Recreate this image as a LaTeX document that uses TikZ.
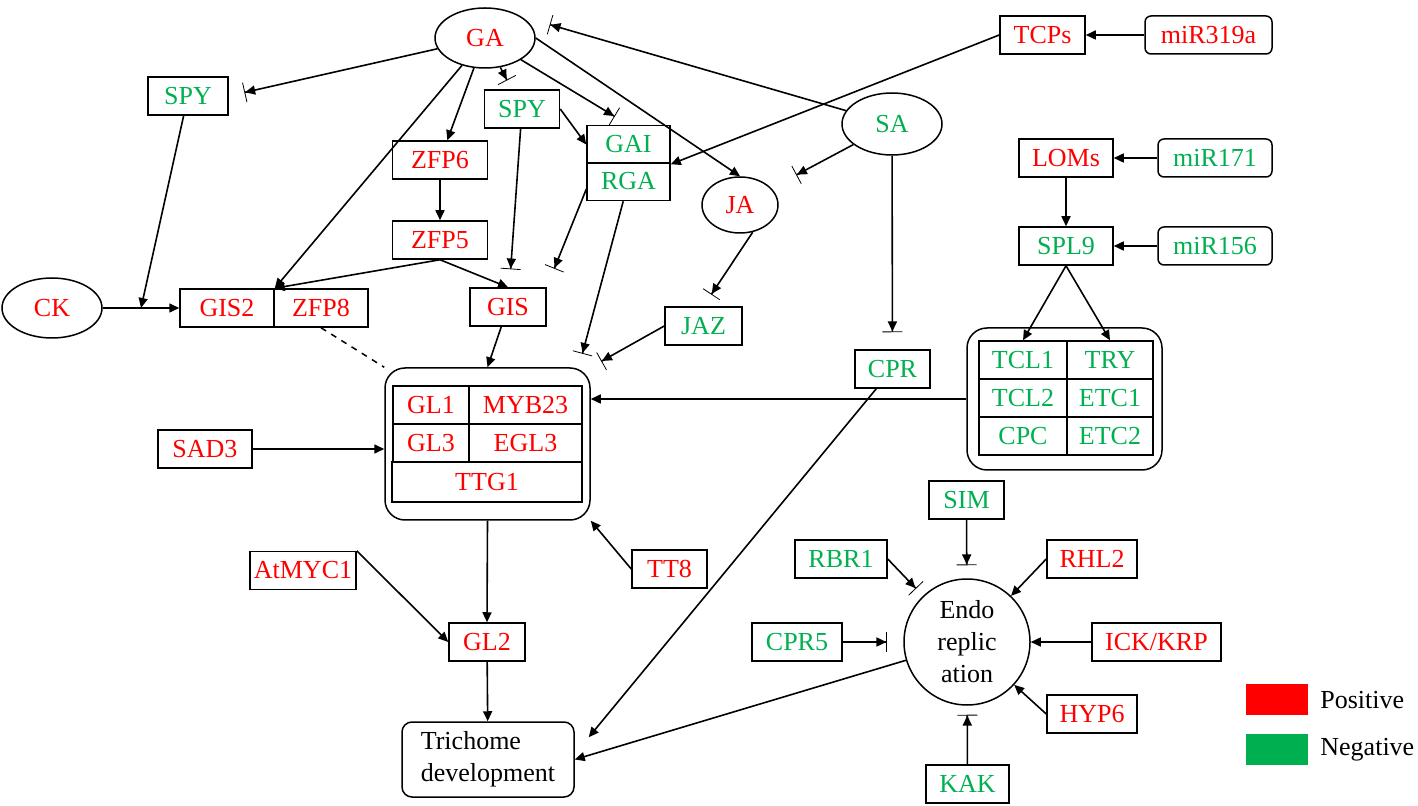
\documentclass[tikz,border=0pt]{standalone}
\usepackage{fontspec}
\setmainfont{Liberation Serif}
\usetikzlibrary{shapes.geometric,arrows.meta,calc}
\definecolor{posred}{RGB}{255,0,0}
\definecolor{neggreen}{RGB}{0,176,80}

\begin{document}
\begin{tikzpicture}[x=0.5pt,y=-0.5pt,font=\fontsize{13}{16}\selectfont,
    gene/.style ={rectangle, draw, line width=0.75pt, minimum height=19pt, inner sep=1pt},
    hormone/.style ={ellipse, draw, line width=0.75pt, inner sep=0pt, minimum width=50pt, minimum height=30pt},
    mirna/.style ={gene, rounded corners=3pt},
    group/.style ={rectangle, draw, line width=0.75pt, rounded corners=10pt},
    posreg/.style ={text=posred},
    negreg/.style ={text=neggreen},
    act/.style ={line width=0.8pt, -{Triangle[length=5pt,width=4.5pt]}},
    inh/.style ={line width=0.8pt, -{Triangle[length=5pt,width=4.5pt]Bar[width=10pt,line width=0.4pt]}}]
   \useasboundingbox (0,0) rectangle (1418,806);
   % hormones
   \node[hormone,posreg] (GA)  at (485,38)  {GA};
   \node[hormone,negreg,minimum height=31pt] (SA)  at (892,124)  {SA};
   \node[hormone,posreg,minimum width=38pt,minimum height=28pt] (JA)  at (740,205)  {JA};
   \node[hormone,posreg] (CK)  at (52,308)  {CK};
   % GA branch
   \node[gene,negreg,minimum width=40pt] (SPY1)  at (188,96)  {SPY};
   \node[gene,negreg,minimum width=37.5pt] (SPY2)  at (522,109)  {SPY};
   \node[gene,posreg,minimum width=47.5pt] (ZFP6)  at (440,160)  {ZFP6};
   \node[gene,posreg,minimum width=47.5pt] (ZFP5)  at (440,240)  {ZFP5};
   \node[gene,negreg,minimum width=41.5pt] (GAI)  at (628.5,144.5)  {GAI};
   \node[gene,negreg,minimum width=41.5pt] (RGA)  at (628.5,181.5)  {RGA};
   \node[gene,posreg,minimum width=47pt] (GIS2)  at (227,308)  {GIS2};
   \node[gene,posreg,minimum width=47pt] (ZFP8)  at (321,308)  {ZFP8};
   \node[gene,posreg,minimum width=38pt] (GIS)  at (508,307)  {GIS};
   \node[gene,negreg,minimum width=38.5pt] (JAZ)  at (703.5,326)  {JAZ};
   \node[gene,negreg,minimum width=37.5pt] (CPR)  at (892.5,369)  {CPR};
   % miRNA branch
   \node[gene,posreg,minimum width=42.5pt] (TCPs)  at (1042.5,35)  {TCPs};
   \node[mirna,posreg,minimum width=63.5pt] (miR319a)  at (1208.5,35)  {miR319a};
   \node[gene,posreg,minimum width=47pt] (LOMs)  at (1066,158)  {LOMs};
   \node[mirna,negreg,minimum width=57pt] (miR171)  at (1215,158)  {miR171};
   \node[gene,negreg,minimum width=47pt] (SPL9)  at (1066,246)  {SPL9};
   \node[mirna,negreg,minimum width=57pt] (miR156)  at (1215,246)  {miR156};
   % repressor complex
   \node[group,minimum width=97.5pt,minimum height=71pt] (tclbox)  at (1064.5,399)  {};
   \node[gene,negreg,minimum width=44pt] (TCL1)  at (1023,360)  {TCL1};
   \node[gene,negreg,minimum width=43pt] (TRY)  at (1110,360)  {TRY};
   \node[gene,negreg,minimum width=44pt] (TCL2)  at (1023,398)  {TCL2};
   \node[gene,negreg,minimum width=43pt] (ETC1)  at (1110,398)  {ETC1};
   \node[gene,negreg,minimum width=44pt] (CPC)  at (1023,436)  {CPC};
   \node[gene,negreg,minimum width=43pt] (ETC2)  at (1110,436)  {ETC2};
   % activator complex
   \node[group,minimum width=102.5pt,minimum height=76pt] (cplx)  at (487.5,444)  {};
   \node[gene,posreg,minimum width=38pt] (GL1)  at (431,405)  {GL1};
   \node[gene,posreg,minimum width=56.5pt] (MYB23)  at (525.5,405)  {MYB23};
   \node[gene,posreg,minimum width=38pt] (GL3)  at (431,443)  {GL3};
   \node[gene,posreg,minimum width=56.5pt] (EGL3)  at (525.5,443)  {EGL3};
   \node[gene,posreg,minimum width=95pt,minimum height=20pt] (TTG1)  at (487,482)  {TTG1};
   \node[gene,posreg,minimum width=47pt] (SAD3)  at (205,449)  {SAD3};
   \node[gene,posreg,minimum width=37.5pt] (TT8)  at (669.5,569)  {TT8};
   \node[gene,posreg,minimum width=53pt] (AtMYC1)  at (303,570.5)  {AtMYC1};
   \node[gene,posreg,minimum width=38pt] (GL2)  at (487,642)  {GL2};
   \node[group,rounded corners=5pt,minimum width=86pt,minimum height=37.5pt,align=left] (trich)  at (488,759.5)  {Trichome\\development};
   % endoreplication
   \node[circle,draw,line width=0.75pt,inner sep=0pt,minimum size=63pt,align=center] (endo)  at (967,642)  {Endo\\replic\\ation};
   \node[gene,negreg,minimum width=37.5pt] (SIM)  at (966.5,500)  {SIM};
   \node[gene,negreg,minimum width=46pt] (RBR1)  at (841,559)  {RBR1};
   \node[gene,posreg,minimum width=45pt] (RHL2)  at (1092,559)  {RHL2};
   \node[gene,negreg,minimum width=45pt] (CPR5)  at (797,642)  {CPR5};
   \node[gene,posreg,minimum width=64.5pt] (ICK)  at (1156.5,642)  {ICK/KRP};
   \node[gene,posreg,minimum width=45pt] (HYP6)  at (1092,714)  {HYP6};
   \node[gene,negreg,minimum width=41.5pt] (KAK)  at (967.5,784)  {KAK};
   % legend
   \node[fill=posred,minimum width=31pt,minimum height=15.5pt,inner sep=0pt] (posbox)  at (1277,699.5)  {};
   \node[fill=neggreen,minimum width=31pt,minimum height=15.5pt,inner sep=0pt] (negbox)  at (1277,749.5)  {};
   \node[anchor=west,inner sep=0pt] (postxt)  at (1320,700)  {Positive};
   \node[anchor=west,inner sep=0pt] (negtxt)  at (1320,750)  {Negative};
   \coordinate (ckjoin) at ($(CK.east)!0.5!(GIS2.west)$);

   \draw[inh, shorten >=8pt] (GA) -- (SPY1.east);
   \draw[act] (GA) -- (GIS2.north east);
   \draw[act] (GA) -- (ZFP6);
   \draw[inh, shorten >=5pt] (GA) -- (SPY2);
   \draw[inh, shorten >=8pt] (GA) -- (GAI.north);
   \draw[act] (GA.east) -- (JA.north);
   \draw[inh, shorten >=15pt] (SA) -- (GA.north east);
   \draw[act] (TCPs.west) -- (GAI.south east);
   \draw[act] (miR319a) -- (TCPs);
   \draw[act] (SPY2.east) -- (GAI.west);
   \draw[inh, shorten >=9pt] (SPY2) -- (GIS);
   \draw[inh, shorten >=10pt] ([yshift=6pt]RGA.south west) -- (GIS.north east);
   \draw[inh, shorten >=7pt] (RGA) -- ([xshift=-6pt]cplx.north east);
   \draw[inh, shorten >=6pt] (JAZ.west) -- (cplx.north east);
   \draw[inh, shorten >=7pt] (JA.-65) -- (JAZ.north);
   \draw[inh, shorten >=14pt] (SA) -- (JA);
   \draw[inh, shorten >=8.5pt] (SA) -- (CPR);
   \draw[act] (ZFP6) -- (ZFP5);
   \draw[act] (ZFP5.south) -- (GIS2.north east);
   \draw[act] (ZFP5.south) -- (GIS.north);
   \draw[act] (CK) -- (GIS2);
   \draw[act] (SPY1) -- (ckjoin);
   \draw[line width=0.75pt, dashed] (ZFP8.south) -- (cplx.north west);
   \draw[act] (GIS) -- (cplx.north);
   \draw[act] (tclbox.west) -- (tclbox.west -| cplx.east);
   \draw[act] (SPL9.south) -- (TCL1.north);
   \draw[act] (SPL9.south) -- (TRY.north);
   \draw[act] (LOMs) -- (SPL9);
   \draw[act] (miR171) -- (LOMs);
   \draw[act] (miR156) -- (SPL9);
   \draw[act] (SAD3) -- (SAD3 -| cplx.west);
   \draw[act] (TT8.west) -- (cplx.south east);
   \draw[act] (cplx.south) -- (GL2.north);
   \draw[act] (AtMYC1.north east) -- (GL2.west);
   \draw[act] (GL2) -- (trich);
   \draw[act] (CPR) -- ([xshift=7pt,yshift=-8pt]trich.north east);
   \draw[act] (endo) -- (trich.east);
   \draw[inh, shorten >=6.5pt] (SIM) -- (endo);
   \draw[inh, shorten >=5pt] (RBR1.east) -- (endo);
   \draw[act] (RHL2.west) -- (endo);
   \draw[inh, shorten >=8pt] (CPR5) -- (endo);
   \draw[act] (ICK) -- (endo);
   \draw[act] (HYP6.west) -- (endo);
   \draw[inh, shorten >=4.5pt] (KAK) -- (endo);
 \end{tikzpicture}
\end{document}
